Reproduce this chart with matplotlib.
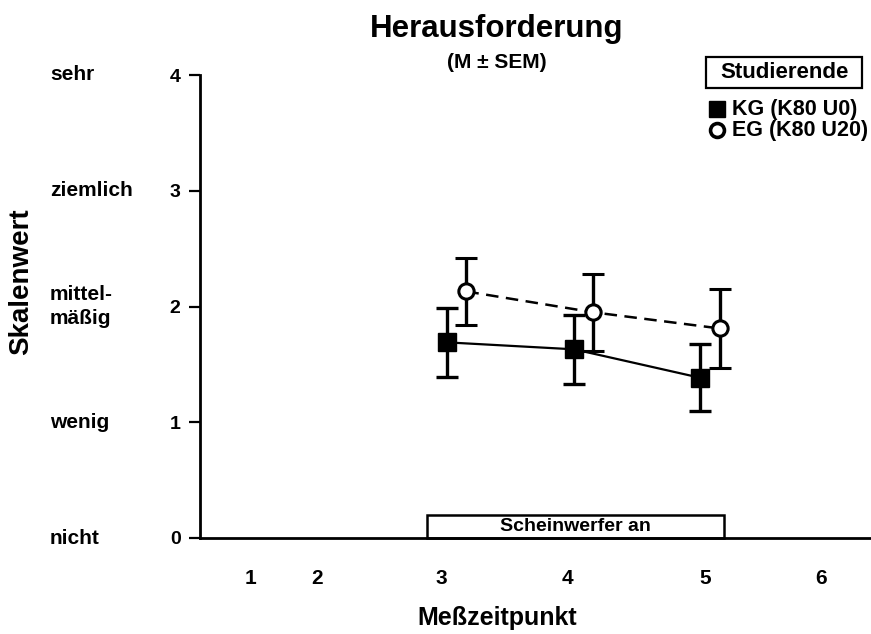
import matplotlib
matplotlib.use("Agg")
import matplotlib.pyplot as plt
from matplotlib.lines import Line2D
from matplotlib.patches import Rectangle

# Messzeitpunkte (Tick-Positionen auf der Zeitachse) und Beschriftungen
tick_pos = [1.5, 2.02, 3.0, 4.0, 5.08, 6.0]
tick_labels = ["1", "2", "3", "4", "5", "6"]

# Kontrollgruppe KG (K80 U0)
kg_x = [3.05, 4.05, 5.04]
kg_mean = [1.69, 1.63, 1.385]
kg_sem = [0.30, 0.30, 0.29]

# Experimentalgruppe EG (K80 U20)
eg_x = [3.20, 4.20, 5.20]
eg_mean = [2.13, 1.95, 1.81]
eg_sem = [0.29, 0.335, 0.34]

# Skalenanker
scale_vals = [0, 1, 2, 3, 4]
scale_words = ["nicht", "wenig", "mittel-\nmäßig", "ziemlich", "sehr"]

# Phase mit Scheinwerfer
light_on = (2.89, 5.23)

FONT = ["Liberation Sans", "DejaVu Sans"]
W, H = 871, 634


def fx(px):
    return px / W


def fy(px):
    return 1 - px / H


fig = plt.figure(figsize=(W / 100, H / 100), dpi=100)
ax = fig.add_axes([fx(200), fy(538), 671 / W, 463 / H])

ax.errorbar(kg_x, kg_mean, yerr=kg_sem, color="black", lw=1.6, elinewidth=2.4,
            capsize=8, capthick=2.4, marker="s", ms=13, mfc="black", mec="black",
            zorder=3)
ax.errorbar(eg_x, eg_mean, yerr=eg_sem, color="black", lw=1.8, ls=(0, (5, 3)),
            elinewidth=2.4, capsize=8, capthick=2.4, marker="o", ms=11,
            mfc="white", mec="black", mew=2.2, zorder=4)

ax.set_xlim(1.10, 6.39)
ax.set_ylim(0, 4)
ax.set_xticks(tick_pos)
ax.set_xticklabels(tick_labels, family=FONT, fontsize=15, fontweight="bold")
ax.tick_params(axis="x", length=0, pad=22)
ax.set_yticks(scale_vals)
ax.set_yticklabels([str(v) for v in scale_vals], family=FONT, fontsize=14,
                   fontweight="bold")
ax.tick_params(axis="y", length=8, width=1.6, pad=6)

for s in ["top", "right"]:
    ax.spines[s].set_visible(False)
for s in ["left", "bottom"]:
    ax.spines[s].set_linewidth(2.0)

# Scheinwerfer-Kasten auf der x-Achse
ax.add_patch(Rectangle((light_on[0], 0), light_on[1] - light_on[0], 0.2,
                       fill=False, lw=1.8, ec="black", clip_on=False, zorder=2))
ax.text(sum(light_on) / 2, 0.1, "Scheinwerfer an", ha="center", va="center",
        family=FONT, fontsize=14, fontweight="bold")

# Verbale Skalenanker links
for v, w in zip(scale_vals, scale_words):
    fig.text(fx(50), ax.transData.transform((0, v))[1] / H, w,
             ha="left", va="center", family=FONT, fontsize=15,
             fontweight="bold", linespacing=1.3)

fig.text(fx(21), fy(282), "Skalenwert", rotation=90, ha="center",
         va="center", family=FONT, fontsize=20, fontweight="bold")
fig.text(fx(497), fy(618), "Meßzeitpunkt", ha="center", va="center",
         family=FONT, fontsize=18, fontweight="bold")

fig.text(fx(497), fy(29), "Herausforderung", ha="center", va="center",
         family=FONT, fontsize=22.5, fontweight="bold")
fig.text(fx(497), fy(62), "(M ± SEM)", ha="center", va="center",
         family=FONT, fontsize=15, fontweight="bold")

# Gruppenkasten oben rechts
fig.add_artist(Rectangle((fx(706), fy(88)), 156 / W, 31 / H, fill=False,
                         lw=1.6, ec="black", transform=fig.transFigure))
fig.text(fx(785), fy(73), "Studierende", ha="center", va="center",
         family=FONT, fontsize=16, fontweight="bold")

# Legende
legend_rows = [
    ("KG (K80 U0)", dict(marker="s", ms=12, mfc="black", mec="black"), 109),
    ("EG (K80 U20)", dict(marker="o", ms=10, mfc="white", mec="black", mew=2.6), 130),
]
for label, style, ypx in legend_rows:
    fig.add_artist(Line2D([fx(717)], [fy(ypx)], ls="none",
                          transform=fig.transFigure, **style))
    fig.text(fx(732), fy(ypx), label, ha="left", va="center", family=FONT,
             fontsize=15.5, fontweight="bold")

fig.savefig("out.png", dpi=100)
